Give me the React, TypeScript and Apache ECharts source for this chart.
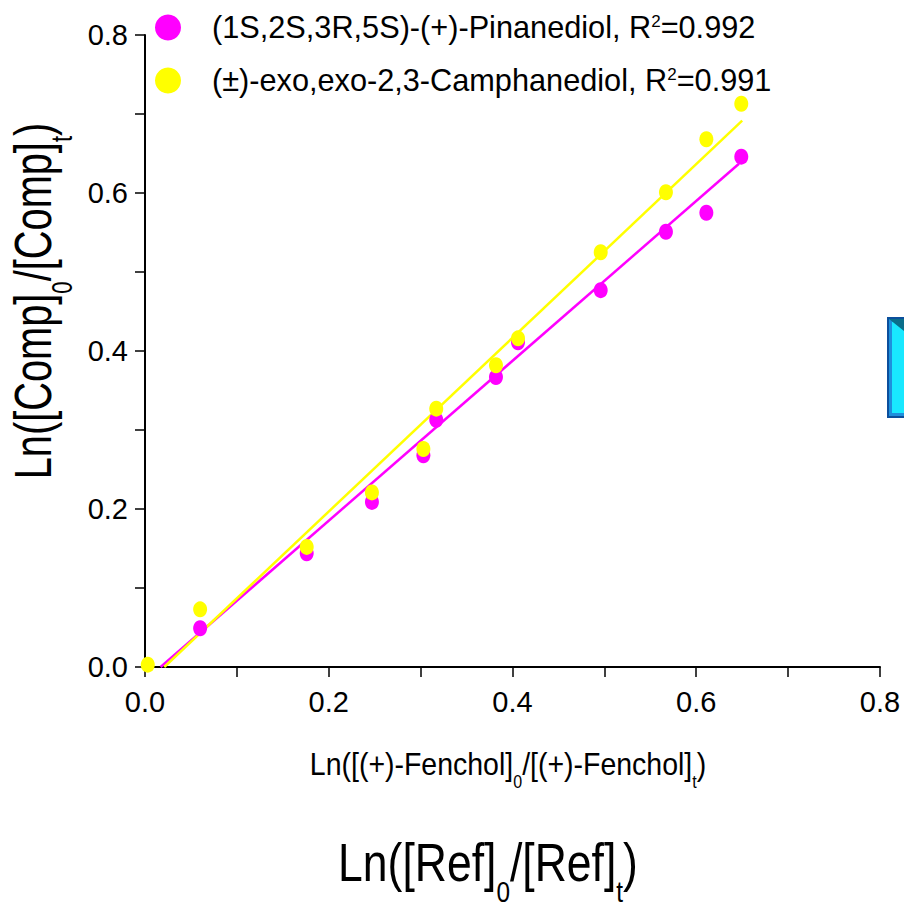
import React, { useEffect, useRef } from "react";
import * as echarts from "echarts";

const FONT = "'Liberation Sans', Arial, Helvetica, sans-serif";

const seriesNames = ["(1S,2S,3R,5S)-(+)-Pinanediol", "(±)-exo,exo-2,3-Camphanediol"];
const seriesR2 = ["0.992", "0.991"];
const seriesColors = ["#ff00ff", "#ffff00"];

// x: Ln([(+)-Fenchol]0/[(+)-Fenchol]t)
const pinX = [0.06, 0.176, 0.247, 0.303, 0.317, 0.382, 0.406, 0.496, 0.567, 0.611, 0.649];
const pinY = [0.049, 0.144, 0.209, 0.268, 0.313, 0.367, 0.411, 0.477, 0.551, 0.575, 0.646];

const camX = [0.003, 0.06, 0.176, 0.247, 0.303, 0.317, 0.382, 0.406, 0.496, 0.567, 0.611, 0.649];
const camY = [0.003, 0.073, 0.152, 0.221, 0.276, 0.327, 0.382, 0.416, 0.525, 0.601, 0.668, 0.713];

// fitted lines (start, end)
const pinFit = [
  [0.017, 0.0],
  [0.6465, 0.637],
];
const camFit = [
  [0.021, 0.0],
  [0.65, 0.6915],
];

const axisMin = 0;
const axisMax = 0.8;
const axisInterval = 0.2;

const zip = (xs: number[], ys: number[]) => xs.map((x, i) => [x, ys[i]]);

export default function App() {
  const ref = useRef<HTMLDivElement>(null);

  useEffect(() => {
    if (!ref.current) return;
    const chart = echarts.init(ref.current, null, { renderer: "svg" });

    const axisCommon = {
      type: "value" as const,
      min: axisMin,
      max: axisMax,
      interval: axisInterval,
      splitLine: { show: false },
      axisLine: { show: true, onZero: false, lineStyle: { color: "#000", width: 2 } },
      axisTick: { show: true, inside: false, length: 10, lineStyle: { color: "#000", width: 1.5 } },
      minorTick: { show: true, splitNumber: 2, length: 10, lineStyle: { color: "#000", width: 1.5 } },
      axisLabel: {
        color: "#000",
        fontSize: 29,
        fontFamily: FONT,
        formatter: (v: number) => v.toFixed(1),
      },
    };

    const mkTitle = (
      text: string,
      x: number,
      y: number,
      F: number,
      S: number,
      P: number,
      sx: number,
      rotation = 0
    ) => ({
      type: "text",
      x,
      y,
      rotation,
      scaleX: sx,
      scaleY: 1,
      silent: true,
      style: {
        text,
        fill: "#000",
        fontSize: F,
        fontFamily: FONT,
        align: "center",
        verticalAlign: "middle",
        textAlign: "center",
        textVerticalAlign: "middle",
        rich: {
          m: { fontSize: F, lineHeight: F, verticalAlign: "top", fontFamily: FONT, fill: "#000" },
          sub: {
            fontSize: S,
            lineHeight: S,
            verticalAlign: "top",
            padding: [P, 0, 0, 0],
            fontFamily: FONT,
            fill: "#000",
          },
        },
      },
    });

    chart.setOption({
      animation: false,
      backgroundColor: "#ffffff",
      grid: { left: 145, right: 24, top: 35, bottom: 243, containLabel: false },
      legend: {
        data: seriesNames,
        orient: "vertical",
        left: 150,
        top: 7,
        itemWidth: 78,
        itemHeight: 26,
        itemGap: 22,
        icon: "circle",
        selectedMode: false,
        formatter: (name: string) => {
          const i = seriesNames.indexOf(name);
          return name + ", R{sup|2}=" + seriesR2[i];
        },
        textStyle: {
          color: "#000",
          fontSize: 30.7,
          fontFamily: FONT,
          lineHeight: 30,
          rich: {
            sup: { fontSize: 17, lineHeight: 17, verticalAlign: "top", fontFamily: FONT, color: "#000" },
          },
        },
      },
      xAxis: { ...axisCommon, axisLabel: { ...axisCommon.axisLabel, margin: 20 } },
      yAxis: { ...axisCommon, axisLabel: { ...axisCommon.axisLabel, margin: 17 } },
      series: [
        {
          name: "Pinanediol fit",
          type: "line",
          data: pinFit,
          symbol: "none",
          silent: true,
          lineStyle: { color: seriesColors[0], width: 2.5 },
          z: 3,
        },
        {
          name: "Camphanediol fit",
          type: "line",
          data: camFit,
          symbol: "none",
          silent: true,
          lineStyle: { color: seriesColors[1], width: 2.5 },
          z: 3,
        },
        {
          name: seriesNames[0],
          type: "scatter",
          data: zip(pinX, pinY),
          symbol: "circle",
          symbolSize: [14, 16],
          itemStyle: { color: seriesColors[0], opacity: 1 },
          z: 4,
        },
        {
          name: seriesNames[1],
          type: "scatter",
          data: zip(camX, camY),
          symbol: "circle",
          symbolSize: [14, 16],
          itemStyle: { color: seriesColors[1], opacity: 1 },
          z: 5,
        },
      ],
      graphic: [
        mkTitle("{m|Ln([Comp]}{sub|0}{m|/[Comp]}{sub|t}{m|)}", 33, 301, 52, 29, 40, 0.765, Math.PI / 2),
        mkTitle("{m|Ln([(+)-Fenchol]}{sub|0}{m|/[(+)-Fenchol]}{sub|t}{m|)}", 508, 764, 32, 18, 25, 0.89),
        mkTitle("{m|Ln([Ref]}{sub|0}{m|/[Ref]}{sub|t}{m|)}", 488, 863, 53, 29, 41, 0.84),
        {
          type: "group",
          silent: true,
          children: [
            { type: "rect", shape: { x: 887, y: 317, width: 20, height: 101 }, style: { fill: "#0b4f9c" } },
            { type: "rect", shape: { x: 889, y: 319, width: 18, height: 97 }, style: { fill: "#1f8fdc" } },
            { type: "rect", shape: { x: 892, y: 322, width: 15, height: 91 }, style: { fill: "#19e8ff" } },
            {
              type: "polygon",
              shape: { points: [[889, 319], [904, 319], [904, 331]] },
              style: { fill: "#0a6e8a" },
            },
          ],
        },
      ],
    });

    return () => chart.dispose();
  }, []);

  return (
    <div
      ref={ref}
      style={{ position: "fixed", left: 0, top: 0, width: 904, height: 910, background: "#fff" }}
    />
  );
}
